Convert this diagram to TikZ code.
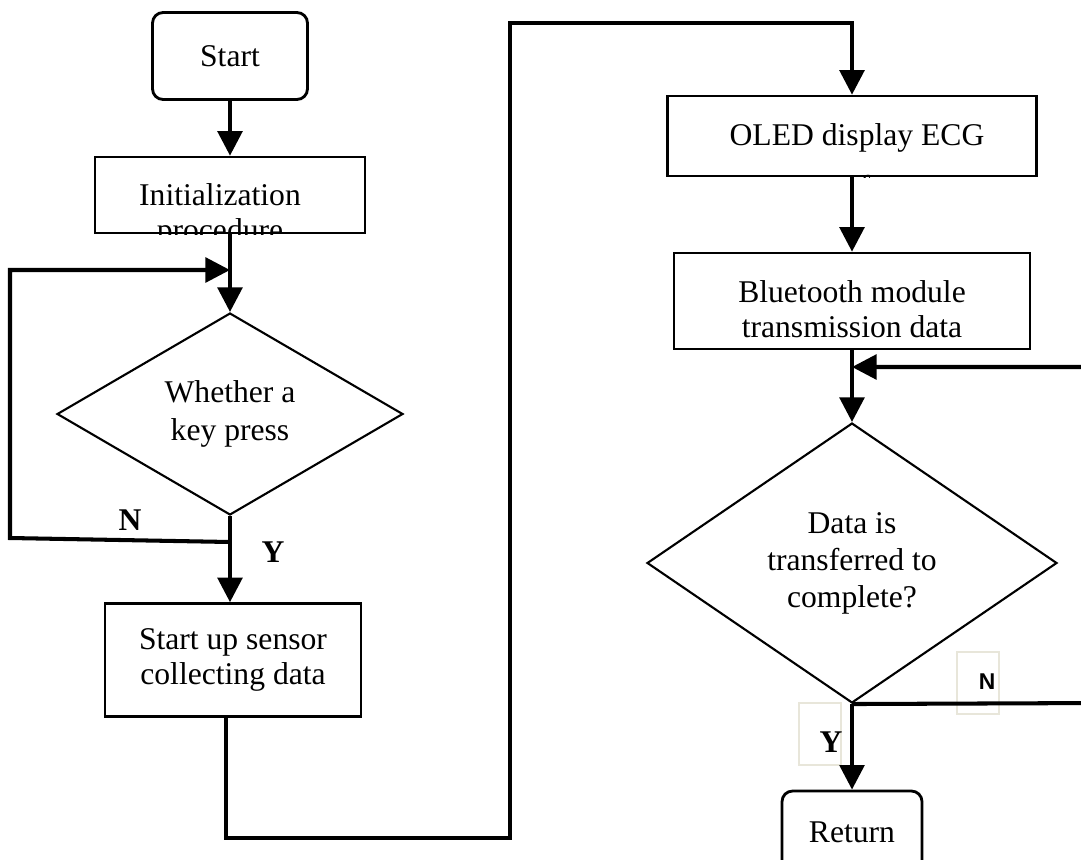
\documentclass[tikz,border=0pt]{standalone}
\usepackage{fontspec}
\setmainfont{Liberation Serif}
\newfontfamily\labsans{Liberation Sans}
\usetikzlibrary{arrows.meta,shapes.geometric}
\definecolor{tagframe}{RGB}{232,230,218}

\begin{document}
\begin{tikzpicture}[x=0.02cm,y=-0.02cm,
  txt/.style={font=\fontsize{18}{20}\selectfont},
  procbox/.style={draw,line width=1.5pt,inner sep=0pt},
  termbox/.style={draw,line width=1.6pt,rounded corners=6pt,inner sep=0pt,txt},
  decbox/.style={draw,diamond,line width=1.2pt,inner sep=0pt,align=center},
  flow/.style={line width=2.3pt,-{Triangle[length=14pt,width=14pt]}},
  tag/.style={font=\fontsize{18}{20}\selectfont\bfseries},
  tagbox/.style={draw=tagframe,line width=0.9pt,minimum width=0.84cm,minimum height=1.24cm}]
\useasboundingbox (0,0) rectangle (1081,859);
\clip (0,0) rectangle (1081,859);

% left column
\node[termbox,minimum width=3.1cm,minimum height=1.74cm] (start) at (230,56) {Start};
\node[procbox,minimum width=5.4cm,minimum height=1.52cm] (init) at (230,195) {};
\begin{scope}
  \clip (init.south west) rectangle (init.north east);
  \node[txt,anchor=base] (inittop) at (220,205) {Initialization};
  \node[txt,anchor=base] (initbot) at (220,240) {procedure};
\end{scope}
\node[decbox,font=\fontsize{18}{21.5}\selectfont,minimum width=6.92cm,minimum height=4.04cm] (key) at (230,414) {Whether a\\key press};
\node[procbox,txt,align=center,font=\fontsize{18}{19.5}\selectfont,minimum width=5.12cm,minimum height=2.26cm] (sensor) at (233,660) {Start up sensor\\collecting data};

% right column
\node[procbox,minimum width=7.38cm,minimum height=1.6cm] (oled) at (852,136) {};
\begin{scope}
  \clip (oled.south west) rectangle (oled.north east);
  \node[txt,anchor=base] (oledtop) at (857,145) {OLED display ECG};
  \node[txt,anchor=base] (oledbot) at (857,197) {waveform};
\end{scope}
\node[procbox,minimum width=7.12cm,minimum height=1.92cm] (bt) at (852,301) {};
\node[txt,anchor=base] (bttop) at (852,302) {Bluetooth module};
\node[txt,anchor=base] (btbot) at (852,337) {transmission data};
\node[decbox,font=\fontsize{18}{21}\selectfont,minimum width=8.2cm,minimum height=5.6cm] (done) at (852,563) {Data is\\transferred to\\complete?};
\node[termbox,minimum width=2.8cm,minimum height=1.64cm] (ret) at (852,832) {Return};

% branch labels
\node[tagbox] (nbox) at (978,683) {};
\node[tagbox] (ybox) at (820,734) {};
\node[font=\labsans\fontsize{13}{15}\selectfont\bfseries] (nright) at (987,682) {N};
\node[tag] (yright) at (831,742) {Y};
\node[tag] (nleft) at (130,520) {N};
\node[tag] (yleft) at (273,552) {Y};

% connectors
\coordinate (keyin) at (230,270);
\coordinate (keyout) at (230,542);
\coordinate (sensorout) at (226,717);
\coordinate (btin) at (852,367);
\draw[flow] (start) -- (init);
\draw[flow] (init) -- (key);
\draw[flow] (key.south) -- (key.south |- sensor.north);
\draw[flow] (keyout) -- (10,538) -- (10,270) -- (keyin);
\draw[flow] (sensorout) |- (510,838) -- (510,23) -| (oled.north);
\draw[flow] (oled) -- (bt);
\draw[flow] (bt) -- (done);
\draw[flow] (done.south) -- (1100,703) |- (btin);
\draw[flow] (done) -- (ret);
\end{tikzpicture}
\end{document}
